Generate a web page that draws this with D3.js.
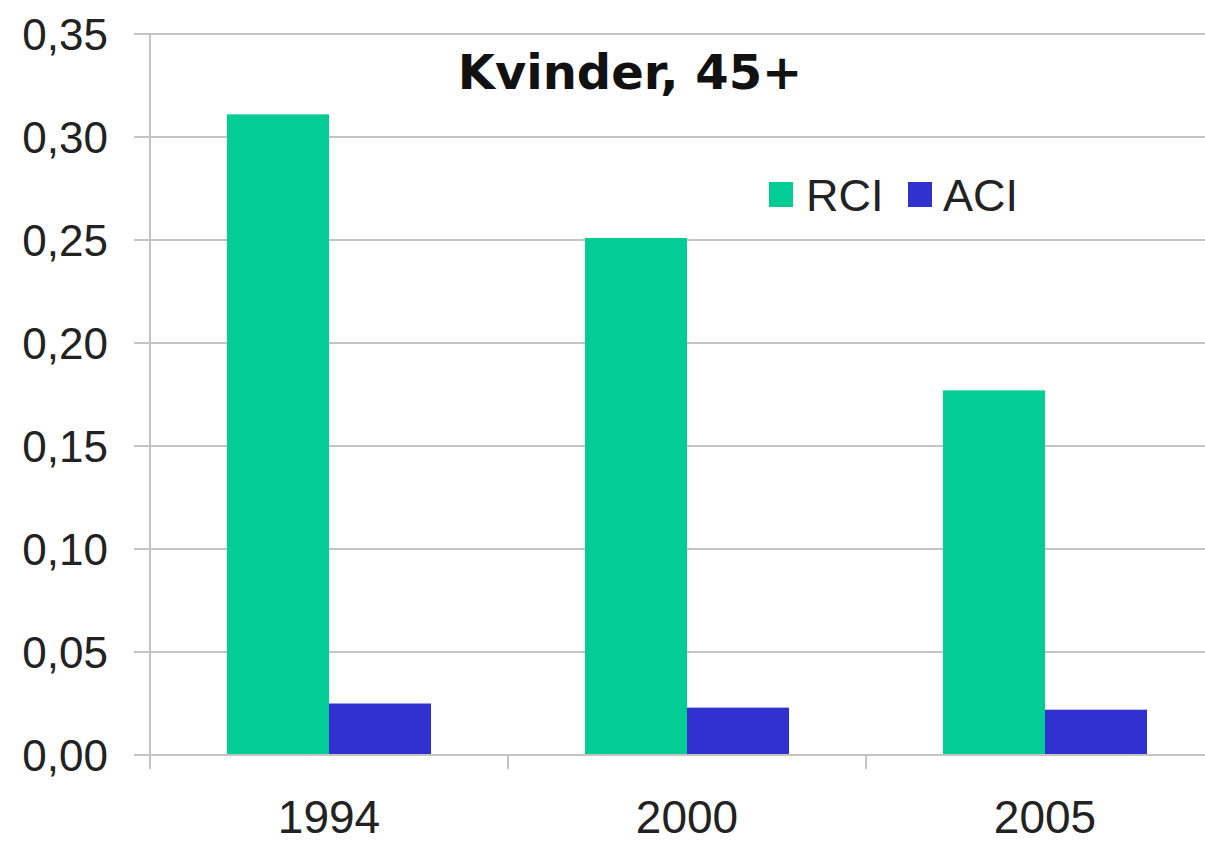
<!DOCTYPE html>
<html>
<head>
<meta charset="utf-8">
<script src="https://cdn.jsdelivr.net/npm/d3@7"></script>
<style>
  html, body { margin: 0; padding: 0; background: #fff; }
  svg { display: block; }
</style>
</head>
<body>
<svg id="chart" width="1205" height="845"></svg>
<script>
// Concentration indices for women aged 45+, by survey year
const years = ["1994", "2000", "2005"];
const seriesNames = ["RCI", "ACI"];
const rciValues = [0.311, 0.251, 0.177];
const aciValues = [0.025, 0.023, 0.022];
const yTicks = [0, 0.05, 0.10, 0.15, 0.20, 0.25, 0.30, 0.35];
const chartTitle = "Kvinder, 45+";

const colors = { RCI: "#03cd95", ACI: "#3131cf" };

const rows = years.map((yr, i) => ({ year: yr, RCI: rciValues[i], ACI: aciValues[i] }));

const svg = d3.select("#chart");
const W = 1205;
const plotLeft = 150, plotRight = 1224, plotTop = 34, plotBottom = 755;

const daFormat = d3.formatLocale({ decimal: ",", thousands: ".", grouping: [3], currency: ["", " kr."] }).format(".2f");

const x0 = d3.scaleBand().domain(years).range([plotLeft, plotRight]).paddingInner(0.43).paddingOuter(0.215);
const x1 = d3.scaleBand().domain(seriesNames).range([0, x0.bandwidth()]).padding(0);
const y = d3.scaleLinear().domain([0, 0.35]).range([plotBottom, plotTop]);

// Horizontal gridlines (extend left as tick marks)
svg.append("g")
  .selectAll("line")
  .data(yTicks)
  .join("line")
  .attr("x1", plotLeft - 16)
  .attr("x2", W)
  .attr("y1", d => y(d))
  .attr("y2", d => y(d))
  .attr("stroke", "#c4c4c4")
  .attr("stroke-width", 2);

// Y tick labels
svg.append("g")
  .selectAll("text")
  .data(yTicks)
  .join("text")
  .attr("x", 108)
  .attr("y", d => y(d) + 16)
  .attr("text-anchor", "end")
  .attr("font-family", "Liberation Sans, Arial, sans-serif")
  .attr("font-size", 44)
  .attr("fill", "#222")
  .text(d => daFormat(d));

// Bars
const groups = svg.append("g")
  .selectAll("g")
  .data(rows)
  .join("g")
  .attr("transform", d => `translate(${x0(d.year)},0)`);

groups.selectAll("rect")
  .data(d => seriesNames.map(k => ({ key: k, value: d[k] })))
  .join("rect")
  .attr("x", d => x1(d.key))
  .attr("width", x1.bandwidth())
  .attr("y", d => y(d.value))
  .attr("height", d => y(0) - y(d.value))
  .attr("fill", d => colors[d.key]);

// Axis lines
svg.append("line")
  .attr("x1", plotLeft).attr("x2", plotLeft)
  .attr("y1", plotTop).attr("y2", plotBottom + 14)
  .attr("stroke", "#c4c4c4").attr("stroke-width", 2);

svg.append("line")
  .attr("x1", plotLeft - 16).attr("x2", W)
  .attr("y1", plotBottom).attr("y2", plotBottom)
  .attr("stroke", "#c4c4c4").attr("stroke-width", 2);

// Category separators on the x axis
const step = x0.step();
svg.append("g")
  .selectAll("line")
  .data(d3.range(years.length + 1).map(i => plotLeft + i * step))
  .join("line")
  .attr("x1", d => d).attr("x2", d => d)
  .attr("y1", plotBottom).attr("y2", plotBottom + 14)
  .attr("stroke", "#c4c4c4").attr("stroke-width", 2);

// X labels
svg.append("g")
  .selectAll("text")
  .data(years)
  .join("text")
  .attr("x", d => x0(d) + x0.bandwidth() / 2)
  .attr("y", 833)
  .attr("text-anchor", "middle")
  .attr("font-family", "Liberation Sans, Arial, sans-serif")
  .attr("font-size", 46)
  .attr("fill", "#222")
  .text(d => d);

// Title
svg.append("text")
  .attr("x", 630)
  .attr("y", 89)
  .attr("text-anchor", "middle")
  .attr("font-family", "DejaVu Sans, Verdana, sans-serif")
  .attr("font-weight", "bold")
  .attr("font-size", 48)
  .attr("fill", "#111")
  .text(chartTitle);

// Legend
const legendItems = [
  { key: "RCI", sx: 769, tx: 806 },
  { key: "ACI", sx: 908, tx: 943 }
];
const legend = svg.append("g");
legend.selectAll("rect")
  .data(legendItems)
  .join("rect")
  .attr("x", d => d.sx)
  .attr("y", 182)
  .attr("width", 24)
  .attr("height", 25)
  .attr("fill", d => colors[d.key]);
legend.selectAll("text")
  .data(legendItems)
  .join("text")
  .attr("x", d => d.tx)
  .attr("y", 211)
  .attr("font-family", "Liberation Sans, Arial, sans-serif")
  .attr("font-size", 45)
  .attr("fill", "#222")
  .text(d => d.key);
</script>
</body>
</html>
